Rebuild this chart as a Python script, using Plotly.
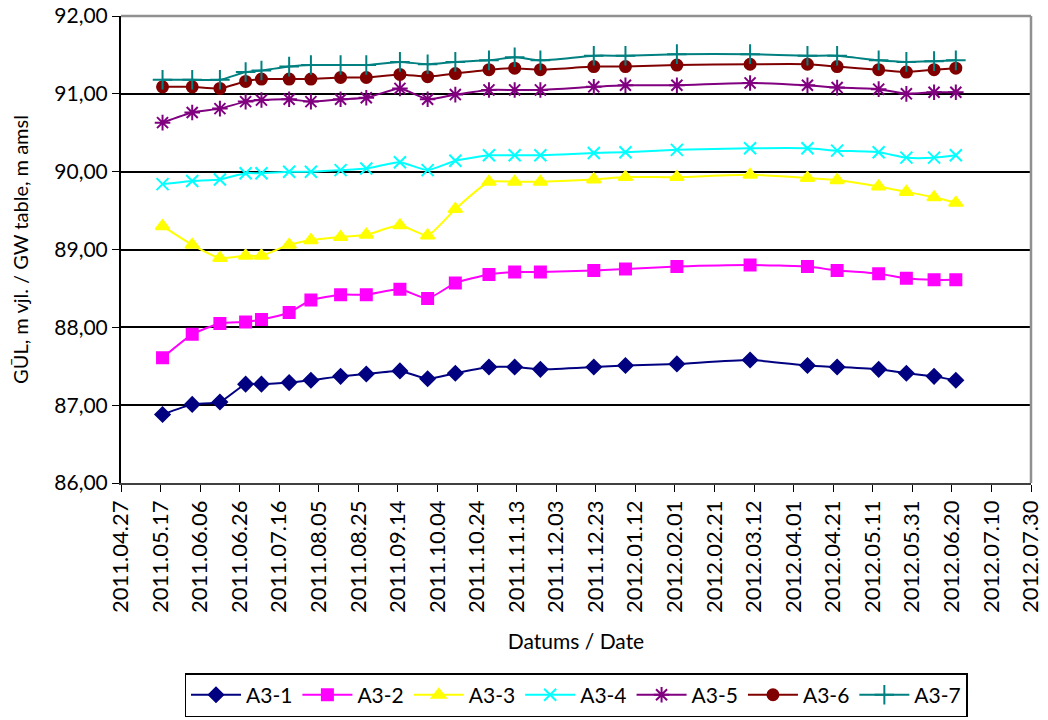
import plotly.graph_objects as go

dates = ["2011-05-18", "2011-06-02", "2011-06-16", "2011-06-29", "2011-07-07", "2011-07-21",
         "2011-08-01", "2011-08-16", "2011-08-29", "2011-09-15", "2011-09-29", "2011-10-13",
         "2011-10-30", "2011-11-12", "2011-11-25", "2011-12-22", "2012-01-07", "2012-02-02",
         "2012-03-10", "2012-04-08", "2012-04-23", "2012-05-14", "2012-05-28", "2012-06-11",
         "2012-06-22"]

a3_1 = [86.88, 87.01, 87.04, 87.27, 87.27, 87.29, 87.32, 87.37, 87.40, 87.44, 87.34, 87.41,
        87.49, 87.49, 87.46, 87.49, 87.51, 87.53, 87.58, 87.51, 87.49, 87.46, 87.41, 87.37, 87.32]
a3_2 = [87.61, 87.91, 88.05, 88.07, 88.10, 88.19, 88.35, 88.42, 88.42, 88.49, 88.37, 88.57,
        88.68, 88.71, 88.71, 88.73, 88.75, 88.78, 88.80, 88.78, 88.73, 88.69, 88.63, 88.61, 88.61]
a3_3 = [89.30, 89.06, 88.89, 88.92, 88.92, 89.06, 89.12, 89.16, 89.19, 89.31, 89.18, 89.52,
        89.87, 89.87, 89.87, 89.90, 89.93, 89.93, 89.96, 89.92, 89.89, 89.81, 89.74, 89.67, 89.60]
a3_4 = [89.84, 89.88, 89.90, 89.98, 89.98, 90.00, 90.00, 90.02, 90.04, 90.12, 90.02, 90.14,
        90.21, 90.21, 90.21, 90.24, 90.25, 90.28, 90.30, 90.30, 90.27, 90.25, 90.18, 90.18, 90.21]
a3_5 = [90.63, 90.76, 90.81, 90.90, 90.92, 90.93, 90.90, 90.93, 90.95, 91.07, 90.93, 90.99,
        91.05, 91.05, 91.05, 91.09, 91.11, 91.11, 91.14, 91.11, 91.08, 91.06, 91.00, 91.02, 91.02]
a3_6 = [91.09, 91.09, 91.07, 91.16, 91.19, 91.19, 91.19, 91.21, 91.21, 91.25, 91.22, 91.26,
        91.31, 91.33, 91.31, 91.35, 91.35, 91.37, 91.38, 91.38, 91.35, 91.31, 91.28, 91.31, 91.33]
a3_7 = [91.18, 91.18, 91.18, 91.28, 91.30, 91.35, 91.37, 91.37, 91.37, 91.41, 91.38, 91.41,
        91.43, 91.47, 91.43, 91.49, 91.49, 91.51, 91.51, 91.49, 91.49, 91.43, 91.41, 91.42, 91.43]

series_names = ["A3-1", "A3-2", "A3-3", "A3-4", "A3-5", "A3-6", "A3-7"]
series_values = [a3_1, a3_2, a3_3, a3_4, a3_5, a3_6, a3_7]
colors = ["#000080", "#FF00FF", "#FFFF00", "#00FFFF", "#800080", "#800000", "#008080"]
symbols = ["diamond", "square", "triangle-up", "x-thin-open", "asterisk-open", "circle", "cross-thin-open"]
sizes = [11, 11, 12, 12, 13, 11, 14]

FONT = "Lato"

fig = go.Figure()
for name, vals, col, sym, sz in zip(series_names, series_values, colors, symbols, sizes):
    fig.add_trace(go.Scatter(
        x=dates, y=vals, name=name, mode="lines+markers",
        line=dict(color=col, width=2, shape="spline", smoothing=0.5),
        marker=dict(symbol=sym, size=sz, color=col, line=dict(color=col, width=2)),
    ))

fig.update_layout(
    width=1048, height=720,
    paper_bgcolor="white", plot_bgcolor="white",
    separators=",.",
    font=dict(family=FONT, size=21, color="black"),
    margin=dict(l=121, r=17, t=16, b=237),
    showlegend=True,
    legend=dict(orientation="h", x=0.5, xanchor="center",
                yref="container", y=0.004, yanchor="bottom",
                bordercolor="black", borderwidth=1.5, font=dict(size=21, family=FONT),
                itemwidth=50, tracegroupgap=0),
    xaxis=dict(
        type="date", range=["2011-04-27", "2012-07-30"],
        tick0="2011-04-27", dtick=20 * 86400000, tickformat="%Y.%m.%d",
        tickangle=-90, ticks="outside", ticklen=7, tickcolor="black",
        showgrid=False, showline=True, linecolor="#404040", linewidth=1.5,
        mirror=False, zeroline=False, automargin=False,
        ticklabeloverflow="allow",
        title=dict(text="Datums / Date", font=dict(size=21), standoff=22),
        tickfont=dict(size=22),
    ),
    yaxis=dict(
        range=[86, 92], dtick=1, tickformat=".2f",
        ticks="outside", ticklen=7, tickcolor="black",
        showgrid=True, gridcolor="black", gridwidth=1.5,
        showline=True, linecolor="black", linewidth=2, zeroline=False,
        automargin=False, ticklabeloverflow="allow",
        title=dict(text="GŪL, m vjl. / GW table, m amsl", font=dict(size=20), standoff=20),
        tickfont=dict(size=21),
    ),
    shapes=[
        dict(type="line", xref="paper", yref="paper", x0=0, x1=1, y0=1, y1=1,
             line=dict(color="#909090", width=2.5)),
        dict(type="line", xref="paper", yref="paper", x0=1, x1=1, y0=0, y1=1,
             line=dict(color="#909090", width=2.5)),
    ],
)

fig.write_html("out.html", config={"displayModeBar": False},
               post_script="document.body.style.margin='0';document.body.style.overflow='hidden';")
